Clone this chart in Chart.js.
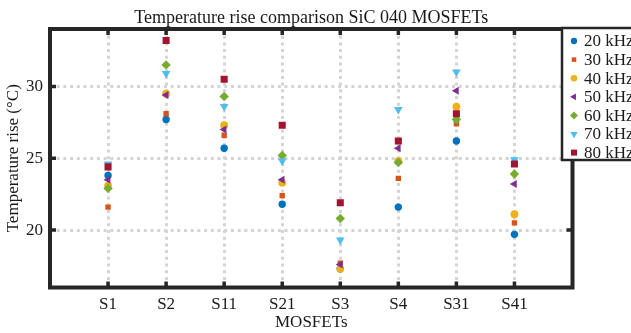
<!DOCTYPE html>
<html>
<head>
<meta charset="utf-8">
<script src="https://cdn.jsdelivr.net/npm/chart.js@4.4.1/dist/chart.umd.min.js"></script>
<style>
    body { margin: 0; background: #ffffff; }
    #wrap { width: 631px; height: 333px; }
</style>
</head>
<body>
<div id="wrap"><canvas id="tempRiseChart"></canvas></div>
<script>
const chartTitle = "Temperature rise comparison SiC 040 MOSFETs";
const mosfets = ["S1", "S2", "S11", "S21", "S3", "S4", "S31", "S41"];
const yTickValues = [20, 25, 30];
const freqLabels = ["20 kHz", "30 kHz", "40 kHz", "50 kHz", "60 kHz", "70 kHz", "80 kHz"];

const rise20 = [23.8, 27.7, 25.7, 21.8, 17.3, 21.6, 26.2, 19.7];
const rise30 = [21.6, 28.1, 26.6, 22.4, 17.7, 23.6, 27.4, 20.5];
const rise40 = [23.1, 29.5, 27.3, 23.3, 17.3, 24.8, 28.6, 21.1];
const rise50 = [23.5, 29.4, 27.0, 23.5, 17.6, 25.7, 29.7, 23.2];
const rise60 = [22.9, 31.5, 29.3, 25.2, 20.8, 24.7, 27.7, 23.9];
const rise70 = [24.6, 30.9, 28.6, 24.8, 19.3, 28.4, 31.0, 24.9];
const rise80 = [24.4, 33.2, 30.5, 27.3, 21.9, 26.2, 28.1, 24.6];

const allRises = [rise20, rise30, rise40, rise50, rise60, rise70, rise80];
const colors = ["#0072BD", "#D95319", "#EDB120", "#7E2F8E", "#77AC30", "#4DBEEE", "#A2142F"];
const markers = [
    { style: "circle", radius: 3.7, rotation: 0 },
    { style: "rect", radius: 3.8, rotation: 0 },
    { style: "circle", radius: 3.9, rotation: 0 },
    { style: "triangle", radius: 4.6, rotation: 270 },
    { style: "rectRot", radius: 4.7, rotation: 0 },
    { style: "triangle", radius: 5, rotation: 180 },
    { style: "rect", radius: 5, rotation: 0 },
];

const AXIS_COLOR = "#262626";
const TEXT_COLOR = "#1a1a1a";
const FONT = '"Liberation Serif", "Times New Roman", serif';

const datasets = allRises.map((values, i) => ({
    label: freqLabels[i],
    data: values.map((v, j) => ({ x: j + 1, y: v })),
    backgroundColor: colors[i],
    borderColor: colors[i],
    borderWidth: 0,
    pointStyle: markers[i].style,
    pointRadius: markers[i].radius,
    pointRotation: markers[i].rotation,
    pointBorderWidth: 0,
    order: allRises.length - i,
}));

// thick box with inward ticks, plus the title centred on the plot box
const axesFrame = {
    id: "axesFrame",
    afterDraw(chart) {
        const { ctx, chartArea: a, scales } = chart;
        ctx.save();
        ctx.strokeStyle = AXIS_COLOR;
        ctx.lineWidth = 3.5;
        mosfets.forEach((m, i) => {
            const x = scales.x.getPixelForValue(i + 1);
            ctx.beginPath();
            ctx.moveTo(x, a.top); ctx.lineTo(x, a.top + 6);
            ctx.moveTo(x, a.bottom); ctx.lineTo(x, a.bottom - 6);
            ctx.stroke();
        });
        yTickValues.forEach((v) => {
            const y = scales.y.getPixelForValue(v);
            ctx.beginPath();
            ctx.moveTo(a.left, y); ctx.lineTo(a.left + 6, y);
            ctx.moveTo(a.right, y); ctx.lineTo(a.right - 6, y);
            ctx.stroke();
        });
        ctx.lineWidth = 4;
        ctx.strokeRect(a.left, a.top, a.right - a.left, a.bottom - a.top);

        ctx.fillStyle = TEXT_COLOR;
        ctx.font = "18px " + FONT;
        ctx.textAlign = "center";
        ctx.textBaseline = "alphabetic";
        ctx.fillText(chartTitle, (a.left + a.right) / 2, 22.5);
        ctx.restore();
    },
};

const legendBox = {
    id: "legendBox",
    afterDraw(chart) {
        const ctx = chart.ctx;
        const left = 562, top = 28, bottom = 160;
        ctx.save();
        ctx.fillStyle = "#ffffff";
        ctx.fillRect(left, top, 80, bottom - top);
        ctx.strokeStyle = AXIS_COLOR;
        ctx.lineWidth = 2.5;
        ctx.strokeRect(left, top, 80, bottom - top);
        chart.data.datasets.forEach((ds, i) => {
            const y = 41 + i * 18.6;
            ctx.fillStyle = ds.backgroundColor;
            ctx.strokeStyle = ds.backgroundColor;
            Chart.helpers.drawPoint(ctx, {
                pointStyle: ds.pointStyle,
                radius: ds.pointRadius * 0.85,
                rotation: ds.pointRotation,
                borderWidth: 0,
            }, 574, y);
            ctx.fillStyle = TEXT_COLOR;
            ctx.font = "17px " + FONT;
            ctx.textBaseline = "middle";
            ctx.textAlign = "left";
            ctx.fillText(ds.label, 584, y + 1);
        });
        ctx.restore();
    },
};

new Chart(document.getElementById("tempRiseChart"), {
    type: "scatter",
    data: { datasets },
    plugins: [axesFrame, legendBox],
    options: {
        responsive: true,
        maintainAspectRatio: false,
        animation: false,
        layout: { padding: { left: 0, right: 58.5, top: 29, bottom: 0 } },
        plugins: {
            legend: { display: false },
            tooltip: { enabled: false },
            title: { display: false },
        },
        scales: {
            x: {
                type: "linear",
                min: 0,
                max: 9,
                afterBuildTicks: (scale) => {
                    scale.ticks = mosfets.map((m, i) => ({ value: i + 1 }));
                },
                afterFit: (scale) => { scale.height = 45.5; },
                ticks: {
                    callback: (value) => mosfets[value - 1],
                    color: TEXT_COLOR,
                    font: { family: FONT, size: 17 },
                    padding: 7,
                    autoSkip: false,
                    maxRotation: 0,
                },
                grid: {
                    color: "#d4d4d4",
                    lineWidth: 3,
                    drawTicks: false,
                },
                border: { display: false, dash: [3, 3.7] },
                title: {
                    display: true,
                    text: "MOSFETs",
                    color: TEXT_COLOR,
                    font: { family: FONT, size: 17 },
                    padding: { top: 0, bottom: 0.5 },
                },
            },
            y: {
                type: "linear",
                min: 16,
                max: 34,
                afterBuildTicks: (scale) => {
                    scale.ticks = yTickValues.map((v) => ({ value: v }));
                },
                afterFit: (scale) => { scale.width = 50; },
                ticks: {
                    color: TEXT_COLOR,
                    font: { family: FONT, size: 17 },
                    padding: 7,
                },
                grid: {
                    color: "#d4d4d4",
                    lineWidth: 3,
                    drawTicks: false,
                },
                border: { display: false, dash: [3, 3.7] },
                title: {
                    display: true,
                    text: "Temperature rise (°C)",
                    color: TEXT_COLOR,
                    font: { family: FONT, size: 17 },
                    padding: { top: 3, bottom: 0 },
                },
            },
        },
    },
});
</script>
</body>
</html>
